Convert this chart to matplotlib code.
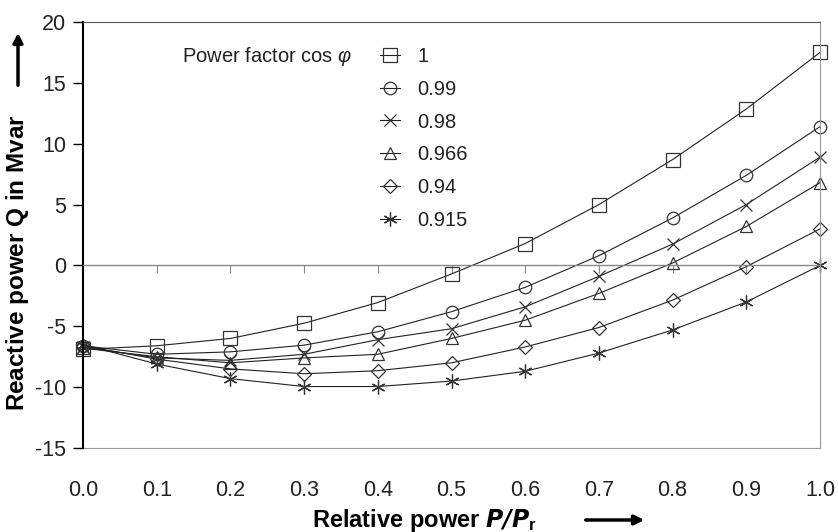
import matplotlib
matplotlib.use("Agg")
import matplotlib.pyplot as plt

plt.rcParams['font.family'] = ['Liberation Sans', 'DejaVu Sans']
plt.rcParams['axes.unicode_minus'] = False
plt.rcParams['mathtext.fontset'] = 'custom'
plt.rcParams['mathtext.rm'] = 'Liberation Sans'
plt.rcParams['mathtext.it'] = 'Liberation Sans:italic'
plt.rcParams['mathtext.bf'] = 'Liberation Sans:bold'

# relative power P/Pr
rel_power = [0.0, 0.1, 0.2, 0.3, 0.4, 0.5, 0.6, 0.7, 0.8, 0.9, 1.0]

# reactive power Q in Mvar for each power factor
q_pf_1 = [-6.9, -6.6, -6.0, -4.75, -3.05, -0.7, 1.8, 5.0, 8.7, 12.85, 17.5]
q_pf_099 = [-6.6, -7.3, -7.1, -6.55, -5.45, -3.8, -1.8, 0.8, 3.9, 7.4, 11.4]
q_pf_098 = [-6.7, -7.6, -7.8, -7.3, -6.1, -5.2, -3.4, -0.9, 1.75, 5.0, 8.9]
q_pf_0966 = [-6.8, -7.5, -8.0, -7.6, -7.3, -6.0, -4.5, -2.3, 0.2, 3.2, 6.8]
q_pf_094 = [-6.6, -7.7, -8.5, -8.9, -8.65, -8.0, -6.7, -5.1, -2.85, -0.1, 3.0]
q_pf_0915 = [-6.5, -8.1, -9.3, -9.95, -9.95, -9.5, -8.7, -7.2, -5.3, -3.0, 0.0]

labels = ['1', '0.99', '0.98', '0.966', '0.94', '0.915']
series = [q_pf_1, q_pf_099, q_pf_098, q_pf_0966, q_pf_094, q_pf_0915]
markers = ['s', 'o', 'x', '^', 'D', (6, 2, 0)]
msizes = [10, 9, 9, 9, 7, 10]

fig = plt.figure(figsize=(8.38, 5.32), dpi=100)
ax = fig.add_axes([83 / 838, 1 - 448 / 532, 737 / 838, 426 / 532])

handles = []
for q, lab, m, ms in zip(series, labels, markers, msizes):
    h, = ax.plot(rel_power, q, color='#222222', lw=0.8, marker=m, ms=ms,
                 mfc='none', mec='#333333', mew=0.9, label=lab, clip_on=False)
    handles.append(h)

ax.set_xlim(0, 1)
ax.set_ylim(-15, 20)
ax.set_yticks(range(-15, 21, 5))
ax.set_xticks(rel_power)

# x axis drawn at Q = 0, labels go on a secondary axis at the bottom
ax.spines['bottom'].set_position(('data', 0))
ax.spines['bottom'].set_color('#888888')
ax.spines['bottom'].set_linewidth(1.0)
ax.tick_params(axis='x', direction='out', length=6, color='#888888', labelbottom=False)
ax.spines['left'].set_color('black')
ax.spines['left'].set_linewidth(1.5)
ax.spines['top'].set_color('#555555')
ax.spines['right'].set_color('#999999')
ax.tick_params(axis='y', direction='out', length=7, width=1.0, pad=5,
               labelsize=15.5, labelcolor='#222222')

sec = ax.secondary_xaxis('bottom')
sec.set_xticks(rel_power)
sec.set_xticklabels(['%.1f' % v for v in rel_power])
sec.tick_params(length=0, pad=23, labelsize=15.5, labelcolor='#222222')
sec.spines['bottom'].set_color('#999999')

leg = ax.legend(handles=handles, loc='upper left', bbox_to_anchor=(0.403, 0.941),
                frameon=False, fontsize=14.5, handlelength=1.0, handletextpad=0.85,
                labelspacing=0.68, borderpad=0, borderaxespad=0)
for t in leg.get_texts():
    t.set_color('#222222')

fig.text(352 / 838, 1 - 57 / 532, r'Power factor cos $\mathit{\varphi}$', ha='right',
         va='center', fontsize=14.5, color='#222222')

fig.text(18 / 838, 1 - 263 / 532, r'Reactive power $\mathbf{Q}$ in Mvar', rotation=90,
         ha='center', va='center', fontsize=17.5, fontweight='bold')
fig.text(424 / 838, 1 - 520 / 532, r'Relative power $\mathbfit{P/P}_{\mathregular{r}}$',
         ha='center', va='center', fontsize=17, fontweight='bold')

# direction arrows next to the axis titles
fig.patches.append(matplotlib.patches.FancyArrowPatch(
    (18 / 838, 1 - 88 / 532), (18 / 838, 1 - 30 / 532), transform=fig.transFigure,
    arrowstyle='-|>', mutation_scale=14, lw=2.5, color='black'))
fig.patches.append(matplotlib.patches.FancyArrowPatch(
    (583 / 838, 1 - 520 / 532), (647 / 838, 1 - 520 / 532), transform=fig.transFigure,
    arrowstyle='-|>', mutation_scale=14, lw=2.5, color='black'))

fig.savefig('out.png', dpi=100)
